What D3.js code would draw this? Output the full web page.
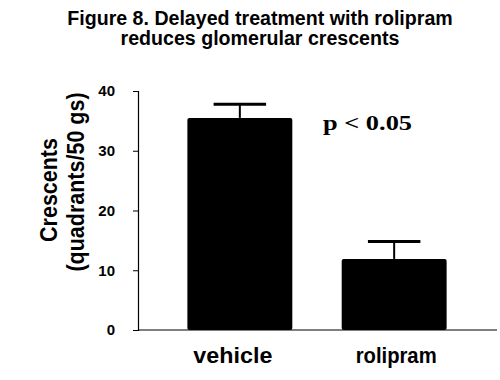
<!DOCTYPE html>
<html lang="en">
<head>
  <meta charset="UTF-8">
  <title>Figure 8</title>
  <script src="https://d3js.org/d3.v7.min.js"></script>
  <style>
    body {
      margin: 0;
      background-color: #ffffff;
    }
    svg {
      display: block;
    }
    .title {
      font-family: "Liberation Sans", Arial, sans-serif;
      font-size: 19.6px;
      font-weight: bold;
      fill: #000;
    }
    .y-axis text {
      font-family: "Liberation Sans", Arial, sans-serif;
      font-size: 15px;
      font-weight: bold;
      fill: #000;
    }
    .ylabel {
      font-family: "Liberation Sans", Arial, sans-serif;
      font-size: 21.5px;
      font-weight: bold;
      fill: #000;
    }
    .cat {
      font-family: "Liberation Sans", Arial, sans-serif;
      font-size: 21.5px;
      font-weight: bold;
      fill: #000;
    }
    .pval {
      font-family: "Liberation Serif", "Times New Roman", serif;
      font-size: 22px;
      font-weight: bold;
      fill: #000;
    }
  </style>
</head>
<body>
  <svg id="chart"></svg>
  <script>
    // data
    const groups = ["vehicle", "rolipram"];
    const means = [35.5, 11.9];
    const errors = [2.3, 2.9];
    const yTicks = [0, 10, 20, 30, 40];
    const titleLines = ["Figure 8. Delayed treatment with rolipram", "reduces glomerular crescents"];
    const yLabelLines = ["Crescents", "(quadrants/50 gs)"];
    const pText = "p < 0.05";

    const svgWidth = 500;
    const svgHeight = 380;

    const svg = d3.select("#chart")
                  .attr("width", svgWidth)
                  .attr("height", svgHeight);

    const x = d3.scaleBand()
                .domain(groups)
                .range([138, 496])
                .paddingInner(0.32)
                .paddingOuter(0.32);

    const y = d3.scaleLinear()
                .domain([0, 40])
                .range([330, 91]);

    // title
    svg.selectAll(".title")
       .data(titleLines)
       .enter()
       .append("text")
       .attr("class", "title")
       .attr("x", 260)
       .attr("y", (d, i) => 25 + i * 20)
       .attr("text-anchor", "middle")
       .text(d => d);

    // y axis
    const yAxis = svg.append("g")
       .attr("class", "y-axis")
       .attr("transform", "translate(138,0)")
       .call(d3.axisLeft(y).tickValues(yTicks).tickSize(5).tickPadding(18));
    yAxis.select(".domain").attr("stroke", "#000").attr("stroke-width", 1.2);
    yAxis.selectAll(".tick line").attr("stroke", "#000");

    // x axis line
    svg.append("line")
       .attr("x1", 138)
       .attr("x2", 497)
       .attr("y1", y(0))
       .attr("y2", y(0))
       .attr("stroke", "#000")
       .attr("stroke-width", 1.2);

    const dataset = groups.map((g, i) => ({ group: g, mean: means[i], err: errors[i] }));

    // error bars (drawn first, bars cover the lower part)
    svg.selectAll(".err")
       .data(dataset)
       .enter()
       .append("line")
       .attr("class", "err")
       .attr("x1", d => x(d.group) + x.bandwidth() / 2)
       .attr("x2", d => x(d.group) + x.bandwidth() / 2)
       .attr("y1", d => y(d.mean))
       .attr("y2", d => y(d.mean + d.err))
       .attr("stroke", "#000")
       .attr("stroke-width", 2);

    svg.selectAll(".cap")
       .data(dataset)
       .enter()
       .append("line")
       .attr("class", "cap")
       .attr("x1", d => x(d.group) + x.bandwidth() / 4)
       .attr("x2", d => x(d.group) + x.bandwidth() * 3 / 4)
       .attr("y1", d => y(d.mean + d.err))
       .attr("y2", d => y(d.mean + d.err))
       .attr("stroke", "#000")
       .attr("stroke-width", 3);

    svg.selectAll(".bar")
       .data(dataset)
       .enter()
       .append("rect")
       .attr("class", "bar")
       .attr("x", d => x(d.group))
       .attr("y", d => y(d.mean))
       .attr("width", x.bandwidth())
       .attr("height", d => y(0) - y(d.mean))
       .attr("rx", 2)
       .attr("fill", "#000");

    // category labels (vehicle sits a bit left of its bar in the original)
    svg.selectAll(".cat")
       .data(groups)
       .enter()
       .append("text")
       .attr("class", "cat")
       .attr("x", d => x(d) + x.bandwidth() / 2)
       .attr("dx", (d, i) => i === 0 ? -7 : 2)
       .attr("y", 363)
       .attr("text-anchor", "middle")
       .attr("textLength", (d, i) => i === 0 ? 79 : 81)
       .attr("lengthAdjust", "spacingAndGlyphs")
       .text(d => d);

    // y label, slightly stretched across like the original scan
    svg.selectAll(".ylabel")
       .data(yLabelLines)
       .enter()
       .append("text")
       .attr("class", "ylabel")
       .attr("transform", (d, i) => `translate(${57 + i * 27},${i === 0 ? 190 : 182}) rotate(-90) scale(1,1.12)`)
       .attr("text-anchor", "middle")
       .text(d => d);

    // significance
    svg.append("text")
       .attr("class", "pval")
       .attr("x", 323)
       .attr("y", 130)
       .attr("textLength", 89)
       .attr("lengthAdjust", "spacingAndGlyphs")
       .text(pText);
  </script>
</body>
</html>
